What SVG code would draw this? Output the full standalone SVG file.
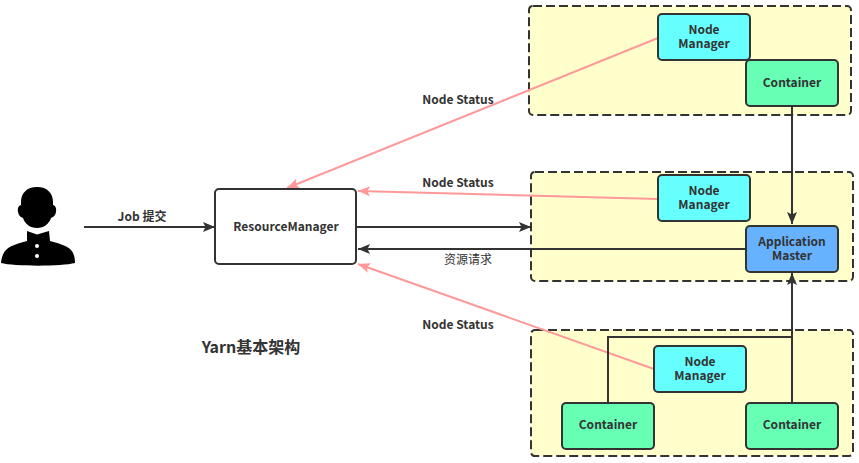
<svg xmlns="http://www.w3.org/2000/svg" width="859" height="463" viewBox="0 0 859 463">
<style>
text{font-family:"Noto Sans CJK SC","Noto Sans",sans-serif;fill:#333;text-anchor:middle}
.t{font-size:12px;font-weight:700}
.s{font-size:12px;font-weight:400}
.g{fill:#ffffcc;stroke:#333;stroke-width:2;stroke-dasharray:9 4}
.n{stroke:#333;stroke-width:2}
.nm{fill:#66ffff}.c{fill:#66ffb3}.am{fill:#66b2ff}.rm{fill:#fff}
.k{fill:none;stroke:#333;stroke-width:2}
.p{fill:none;stroke:#ff9999;stroke-width:2}
</style>
<defs>
<marker id="ad" markerUnits="userSpaceOnUse" markerWidth="14" markerHeight="12" refX="12" refY="5" orient="auto" overflow="visible"><path d="M0 0L12 5L0 10L2.5 5Z" fill="#333"/></marker>
<marker id="ap" markerUnits="userSpaceOnUse" markerWidth="14" markerHeight="12" refX="12" refY="5" orient="auto" overflow="visible"><path d="M0 0L12 5L0 10L2.5 5Z" fill="#ff9999"/></marker>
</defs>
<g id="group-top"><rect class="g" x="529" y="6" width="322" height="109" rx="4"/></g>
<g id="group-middle"><rect class="g" x="531" y="172" width="322" height="109" rx="4"/></g>
<g id="group-bottom"><rect class="g" x="531" y="330" width="322" height="126" rx="4"/></g>
<g id="connectors">
<path class="p" d="M658 38L287 188" marker-end="url(#ap)"/>
<path class="p" d="M658 199L358 191" marker-end="url(#ap)"/>
<path class="p" d="M654 369L358 264" marker-end="url(#ap)"/>
<path class="k" d="M84 227H215" marker-end="url(#ad)"/>
<path class="k" d="M356 227H531" marker-end="url(#ad)"/>
<path class="k" d="M746 249H358" marker-end="url(#ad)"/>
<path class="k" d="M792 106V224" marker-end="url(#ad)"/>
<path class="k" d="M792 403V273" marker-end="url(#ad)"/>
<path class="k" d="M608 403V337H792"/>
</g>
<g id="person">
<path fill="#000" d="M37 187C27 187 21 193 21 202V205C18 206 17.500 209 18 212C18.500 215 20 217 23 218C25 224 30 228 37 228C44 228 49 224 51 218C54 217 55.500 215 56 212C56.500 209 56 206 53 205V202C53 193 47 187 37 187Z"/>
<path fill="#000" d="M27 231L37 234.500L49 231L50 241C57 243 65 245 70 249C73.500 252 75 257 75 263C62 266.500 14 266.500 1 263C1.500 257 3.500 252 7 249C12 245 20 243 27 241Z"/>
<circle cx="37" cy="246" r="2" fill="#fff"/><circle cx="37" cy="256" r="2" fill="#fff"/>
</g>
<g id="resource-manager"><rect class="n rm" x="215" y="189" width="141" height="75" rx="4"/><text class="t" x="286" y="231">ResourceManager</text></g>
<g id="node-manager-1"><rect class="n nm" x="658" y="14" width="92" height="46" rx="4"/><text class="t" x="704" y="34">Node<tspan x="704" dy="14">Manager</tspan></text></g>
<g id="container-1"><rect class="n c" x="746" y="60" width="92" height="46" rx="4"/><text class="t" x="792" y="87">Container</text></g>
<g id="node-manager-2"><rect class="n nm" x="658" y="175" width="92" height="46" rx="4"/><text class="t" x="704" y="195">Node<tspan x="704" dy="14">Manager</tspan></text></g>
<g id="application-master"><rect class="n am" x="746" y="226" width="92" height="46" rx="4"/><text class="t" x="792" y="246">Application<tspan x="792" dy="14">Master</tspan></text></g>
<g id="node-manager-3"><rect class="n nm" x="654" y="346" width="92" height="46" rx="4"/><text class="t" x="700" y="366">Node<tspan x="700" dy="14">Manager</tspan></text></g>
<g id="container-2"><rect class="n c" x="562" y="403" width="92" height="46" rx="4"/><text class="t" x="608" y="429">Container</text></g>
<g id="container-3"><rect class="n c" x="746" y="403" width="92" height="46" rx="4"/><text class="t" x="792" y="429">Container</text></g>
<g id="labels">
<text class="t" x="142" y="221">Job 提交</text>
<text class="t" x="458" y="104">Node Status</text>
<text class="t" x="458" y="187">Node Status</text>
<text class="t" x="458" y="329">Node Status</text>
<text class="s" x="468" y="264">资源请求</text>
<text x="251" y="353" font-size="16" font-weight="700">Yarn基本架构</text>
</g>
</svg>
